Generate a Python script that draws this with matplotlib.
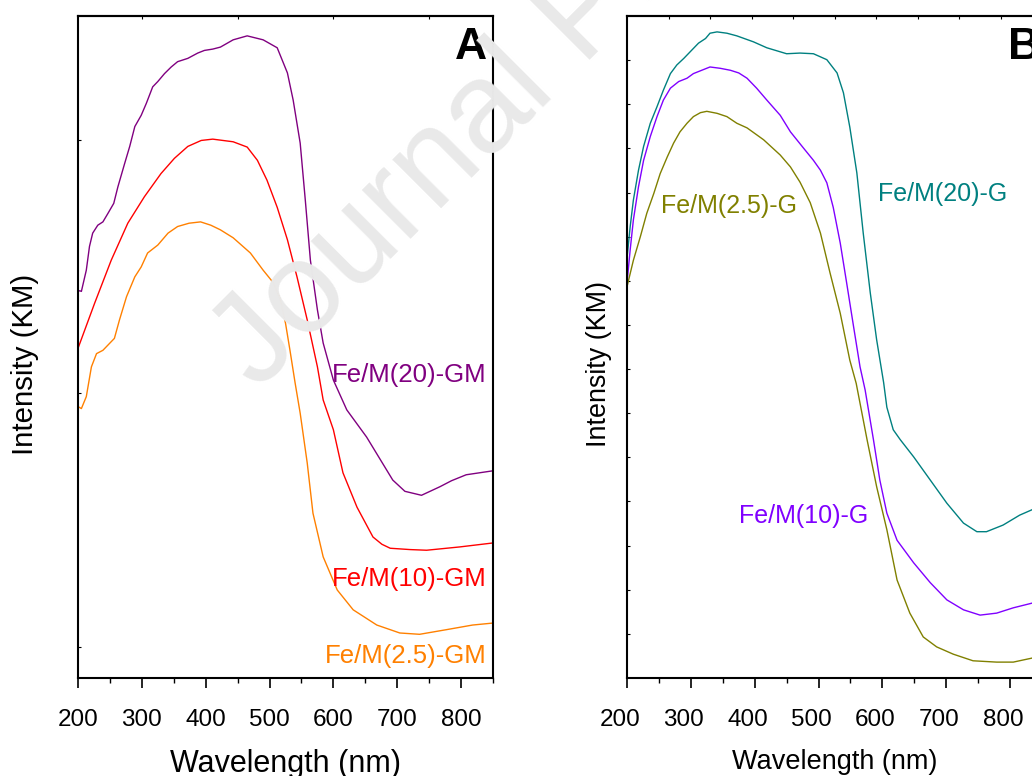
import matplotlib
matplotlib.use("Agg")
import matplotlib.pyplot as plt
from matplotlib.transforms import ScaledTranslation

plt.rcParams['font.family'] = ['Liberation Sans', 'DejaVu Sans']

# ---- Panel A : Fe/M(x)-GM (wavelength nm, intensity in arbitrary KM units) ----
wl_gm20 = [200, 202.7, 205.3, 213, 218, 223, 231, 239, 247, 256, 262.5, 273, 281, 289, 299,
           307, 317, 325, 335.5, 346, 356, 372, 387.5, 398, 411, 423, 443, 465, 490, 512,
           528, 537, 548, 556, 564, 575, 584, 600, 621, 652, 693, 712, 738, 767, 785, 808, 850]
km_gm20 = [58.4, 58.5, 58.4, 61.6, 65.2, 67.2, 68.4, 68.9, 70.2, 71.7, 74.2, 77.7, 80.3, 83.3,
           85.0, 86.8, 89.3, 90.1, 91.3, 92.3, 93.1, 93.6, 94.4, 94.8, 95.0, 95.3, 96.4, 97.0,
           96.4, 95.2, 91.4, 87.3, 80.8, 72.2, 63.1, 55.6, 50.6, 45.0, 40.5, 36.4, 29.9, 28.2,
           27.6, 28.9, 29.8, 30.7, 31.3]

wl_gm10 = [200, 226, 252, 278, 304, 330, 351, 372, 393, 411, 443, 465, 481, 496, 512, 528,
           543, 559, 575, 584, 600, 615, 637, 662, 676, 689, 720, 746, 798, 850]
km_gm10 = [49.8, 56.6, 63.1, 68.7, 72.7, 76.2, 78.5, 80.3, 81.2, 81.4, 81.0, 80.2, 78.2, 75.2,
           71.1, 66.2, 60.6, 54.1, 47.0, 42.0, 37.5, 31.0, 25.8, 21.3, 20.2, 19.6, 19.4, 19.3,
           19.8, 20.4]

wl_gm25 = [200, 205.3, 213, 221, 229, 239, 247, 257, 265, 276, 289, 299, 309, 325, 341, 356,
           374, 392, 408, 423, 443, 470, 490, 506, 517, 525, 532, 540, 548, 559, 568, 584,
           606, 631, 668, 704, 735, 777, 818, 850]
km_gm25 = [41.0, 40.7, 42.5, 47.0, 49.0, 49.5, 50.3, 51.3, 54.1, 57.6, 60.6, 62.1, 64.2, 65.4,
           67.2, 68.2, 68.7, 68.9, 68.4, 67.7, 66.5, 64.2, 61.6, 59.7, 57.1, 53.6, 49.5, 44.6,
           40.0, 32.5, 24.9, 18.3, 13.3, 10.3, 8.0, 6.8, 6.6, 7.3, 8.0, 8.3]

# ---- Panel B : Fe/M(x)-G ----
wl_g20 = [200, 205, 210, 218, 226, 236.5, 247, 257, 268, 278, 289, 299, 312, 323, 330, 341,
          356.5, 372, 398, 419, 450, 471, 492, 513, 529, 539, 549, 560, 570, 581, 591, 602,
          607, 617, 628, 649, 675, 701, 727, 748, 763, 789, 815, 834, 850]
km_g20 = [63.4, 68.2, 72.2, 76.7, 80.3, 83.8, 86.3, 88.8, 91.3, 92.6, 93.6, 94.6, 95.9, 96.6,
          97.4, 97.6, 97.4, 97.0, 96.1, 95.2, 94.3, 94.4, 94.3, 93.4, 91.4, 88.4, 83.2, 76.3,
          67.2, 58.2, 51.1, 44.6, 40.9, 37.5, 36.0, 33.4, 29.9, 26.4, 23.4, 22.1, 22.1, 23.1,
          24.6, 25.4, 26.3]

wl_g10 = [200, 205, 210, 218, 226, 236.5, 247, 257, 268, 281, 294, 304, 317, 330, 346, 362,
          375, 388, 403, 419, 440, 456, 476, 492, 503, 513, 523, 534, 544, 555, 565, 573,
          586, 596, 607, 623, 649, 675, 701, 727, 753, 779, 805, 834, 850]
km_g10 = [59.7, 64.7, 69.2, 74.2, 78.2, 81.8, 84.8, 87.3, 89.1, 90.1, 90.6, 91.3, 91.8, 92.3,
          92.1, 91.8, 91.4, 90.6, 89.1, 87.3, 85.0, 82.5, 80.1, 78.2, 76.7, 74.8, 71.1, 65.7,
          59.7, 53.0, 47.0, 43.5, 36.0, 29.9, 24.9, 20.8, 17.4, 14.4, 11.8, 10.3, 9.5, 9.8,
          10.6, 11.3, 11.8]

wl_g25 = [200, 210, 221, 231, 242, 252, 263, 273, 283, 294, 304, 315, 325, 341, 356.5, 372,
          388, 414, 440, 456, 471, 487, 503, 518, 534, 549, 559, 576, 591, 607, 623, 643,
          664, 685, 711, 742, 779, 805, 834, 850]
km_g25 = [59.1, 63.1, 66.7, 70.2, 73.2, 76.2, 78.7, 80.8, 82.5, 83.8, 84.8, 85.4, 85.6, 85.3,
          84.8, 83.8, 83.1, 81.3, 79.0, 77.2, 74.9, 71.8, 67.2, 61.2, 55.1, 48.0, 44.5, 36.0,
          28.9, 22.4, 14.8, 9.8, 6.2, 4.7, 3.6, 2.6, 2.4, 2.4, 3.0, 3.4]

fig = plt.figure(figsize=(10.32, 7.76), dpi=100)
W, H = 1032.0, 776.0

# faint watermark behind everything
fig.text(258 / W, 1 - 392 / H, "Journal Pre-proof", fontsize=93, color='#e9e9e9',
         rotation=45, rotation_mode='anchor', ha='left', va='baseline', zorder=0)

axA = fig.add_axes([78 / W, 1 - 678 / H, 415 / W, 662 / H])
axB = fig.add_axes([627 / W, 1 - 678 / H, 415 / W, 662 / H])

for ax in (axA, axB):
    ax.set_facecolor('none')
    ax.set_xlim(200, 850)
    ax.set_ylim(0, 100)
    for sp in ax.spines.values():
        sp.set_linewidth(1.5)
    ax.set_xticks(range(200, 801, 100))
    ax.set_xticks(range(250, 851, 100), minor=True)
    ax.tick_params(axis='x', which='major', direction='out', length=7, width=1.2,
                   labelsize=17.5, pad=15, top=False)
    ax.tick_params(axis='x', which='minor', direction='out', length=3.5, width=1.0, top=False)
    ax.tick_params(axis='y', which='both', direction='in', length=2.5, width=0.8,
                   labelleft=False, right=False)

axA.set_yticks([4.7, 43.0, 81.3])
axB.set_yticks([k * 100 / 15 for k in range(1, 15)])

topA = axA.secondary_xaxis('top')
topA.set_xticks([300, 450, 600, 750])
topB = axB.secondary_xaxis('top')
topB.set_xticks([200 + 65 * k for k in range(1, 10)])
for t in (topA, topB):
    t.tick_params(direction='in', length=2.5, width=0.8, labeltop=False)
    t.spines['top'].set_linewidth(1.5)

lw = 1.0
axA.plot(wl_gm20, km_gm20, color='#800080', lw=lw)
axA.plot(wl_gm10, km_gm10, color='#ff0000', lw=lw)
axA.plot(wl_gm25, km_gm25, color='#ff8000', lw=lw)

axB.plot(wl_g20, km_g20, color='#008080', lw=lw)
axB.plot(wl_g10, km_g10, color='#8000ff', lw=lw)
axB.plot(wl_g25, km_g25, color='#808000', lw=lw)

# series labels
axA.text(840, 44.7, "Fe/M(20)-GM", color='#800080', fontsize=18.5, ha='right', va='baseline')
axA.text(840, 13.9, "Fe/M(10)-GM", color='#ff0000', fontsize=18.5, ha='right', va='baseline')
axA.text(840, 2.3, "Fe/M(2.5)-GM", color='#ff8000', fontsize=18.5, ha='right', va='baseline')

axB.text(593, 72.1, "Fe/M(20)-G", color='#008080', fontsize=18, ha='left', va='baseline')
axB.text(254, 70.2, "Fe/M(2.5)-G", color='#808000', fontsize=18, ha='left', va='baseline')
axB.text(376, 23.4, "Fe/M(10)-G", color='#8000ff', fontsize=18, ha='left', va='baseline')

# panel letters
axA.text(0.9855, 0.983, "A", transform=axA.transAxes, fontsize=32, fontweight='bold',
         ha='right', va='top')
axB.text(381 / 415, 0.983, "B", transform=axB.transAxes, fontsize=32, fontweight='bold',
         ha='left', va='top')

# axis titles
fig.text(285 / W, 1 - 749 / H, "Wavelength (nm)", fontsize=22, ha='center', va='top')
fig.text(834.5 / W, 1 - 749 / H, "Wavelength (nm)", fontsize=19.5, ha='center', va='top')
fig.text(25.5 / W, 1 - 364 / H, "Intensity (KM)", fontsize=21.2, rotation=90,
         ha='center', va='center')
fig.text(599 / W, 1 - 364 / H, "Intensity (KM)", fontsize=19.4, rotation=90,
         ha='center', va='center')

# panel B tick labels sit slightly left of their ticks in the original
shift = ScaledTranslation(-7 / 100, 0, fig.dpi_scale_trans)
for lab in axB.get_xticklabels():
    lab.set_transform(lab.get_transform() + shift)

fig.savefig("out.png", dpi=100)
